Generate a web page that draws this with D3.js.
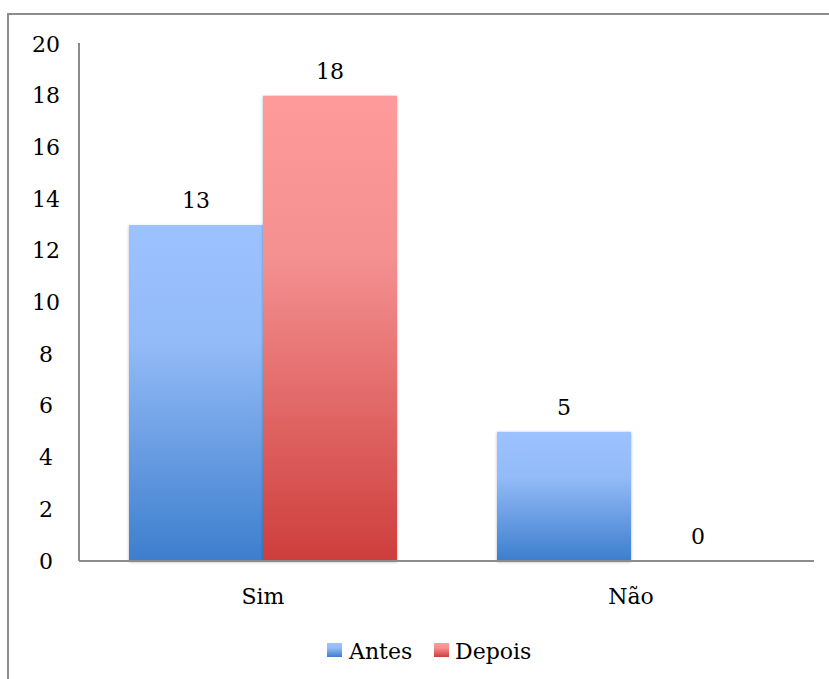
<!DOCTYPE html>
<html>
<head>
<meta charset="utf-8">
<script src="https://cdn.jsdelivr.net/npm/d3@7"></script>
<style>
  html, body { margin: 0; padding: 0; background: #fff; }
  svg { display: block; }
  text { font-family: "DejaVu Serif", "Liberation Serif", serif; fill: #000; }
</style>
</head>
<body>
<svg id="chart" width="829" height="679"></svg>
<script>
const categories = ["Sim", "Não"];
const seriesNames = ["Antes", "Depois"];
const antesValues = [13, 5];
const depoisValues = [18, 0];
const yTickValues = [0, 2, 4, 6, 8, 10, 12, 14, 16, 18, 20];

const seriesValues = { "Antes": antesValues, "Depois": depoisValues };

const svg = d3.select("#chart");
const W = 829, H = 679;
const plot = { left: 79, right: 815, top: 44, bottom: 561 };

const defs = svg.append("defs");
const grads = {
  "Antes": [["0%", "#9cc2ff"], ["35%", "#93bbf7"], ["100%", "#3d7ecd"]],
  "Depois": [["0%", "#ff9a9a"], ["35%", "#f49090"], ["100%", "#cd3e3c"]]
};
Object.entries(grads).forEach(([k, stops]) => {
  const g = defs.append("linearGradient").attr("id", "g-" + k)
    .attr("x1", 0).attr("y1", 0).attr("x2", 0).attr("y2", 1);
  stops.forEach(s => g.append("stop").attr("offset", s[0]).attr("stop-color", s[1]));
});
const f = defs.append("filter").attr("id", "shadow")
  .attr("x", "-10%").attr("y", "-10%").attr("width", "120%").attr("height", "120%");
f.append("feDropShadow").attr("dx", 0).attr("dy", 1).attr("stdDeviation", 1.5)
  .attr("flood-color", "#000").attr("flood-opacity", 0.3);

// outer frame
svg.append("path")
  .attr("d", `M${W + 5},14 L8,14 L8,${H + 5}`)
  .attr("fill", "none").attr("stroke", "#8c8c8c").attr("stroke-width", 2);

const x0 = d3.scaleBand().domain(categories).range([plot.left, plot.right]).padding(0);
const x1 = d3.scaleBand().domain(seriesNames).range([0, x0.bandwidth()])
  .paddingInner(0).paddingOuter(0.373);
const y = d3.scaleLinear().domain([0, 20]).range([plot.bottom, plot.top]);

// bars
const groups = svg.append("g").selectAll("g").data(categories).join("g")
  .attr("transform", d => `translate(${x0(d)},0)`);
groups.selectAll("rect")
  .data((c, i) => seriesNames.map(s => ({ s, v: seriesValues[s][i] })).filter(d => d.v > 0))
  .join("rect")
  .attr("x", d => x1(d.s))
  .attr("y", d => y(d.v))
  .attr("width", x1.bandwidth())
  .attr("height", d => y(0) - y(d.v))
  .attr("fill", d => `url(#g-${d.s})`)
  .attr("filter", "url(#shadow)");

// data labels
groups.selectAll("text.lbl")
  .data((c, i) => seriesNames.map(s => ({ s, v: seriesValues[s][i] })))
  .join("text").attr("class", "lbl")
  .attr("x", d => x1(d.s) + x1.bandwidth() / 2)
  .attr("y", d => y(d.v) - 17)
  .attr("text-anchor", "middle")
  .attr("font-size", 22)
  .text(d => d.v);

// y axis
const yAxis = d3.axisLeft(y).tickValues(yTickValues).tickSize(0).tickPadding(0);
const yg = svg.append("g").attr("transform", `translate(${plot.left},0)`).call(yAxis);
yg.select(".domain").attr("stroke", "#8c8c8c").attr("stroke-width", 2)
  .attr("d", `M0,${plot.top - 1}V${plot.bottom}`);
yg.selectAll("text")
  .attr("x", 46 - plot.left).attr("text-anchor", "middle")
  .attr("font-size", 22).attr("font-family", "DejaVu Serif").attr("fill", "#000");

// x axis
const xAxis = d3.axisBottom(x0).tickSize(0).tickPadding(0);
const xg = svg.append("g").attr("transform", `translate(0,${plot.bottom})`).call(xAxis);
xg.select(".domain").attr("stroke", "#8c8c8c").attr("stroke-width", 2)
  .attr("d", `M${plot.left},0H${plot.right - 1}`);
xg.selectAll("text")
  .attr("y", 43).attr("dy", 0)
  .attr("font-size", 22).attr("font-family", "DejaVu Serif").attr("fill", "#000");

// legend
const legendItems = [
  { s: "Antes", sx: 327, tx: 349 },
  { s: "Depois", sx: 434, tx: 455 }
];
const lg = svg.append("g");
legendItems.forEach(it => {
  lg.append("rect").attr("x", it.sx).attr("y", 643).attr("width", 15).attr("height", 14)
    .attr("fill", `url(#g-${it.s})`);
  lg.append("text").attr("x", it.tx).attr("y", 659).attr("font-size", 22).text(it.s);
});
</script>
</body>
</html>
